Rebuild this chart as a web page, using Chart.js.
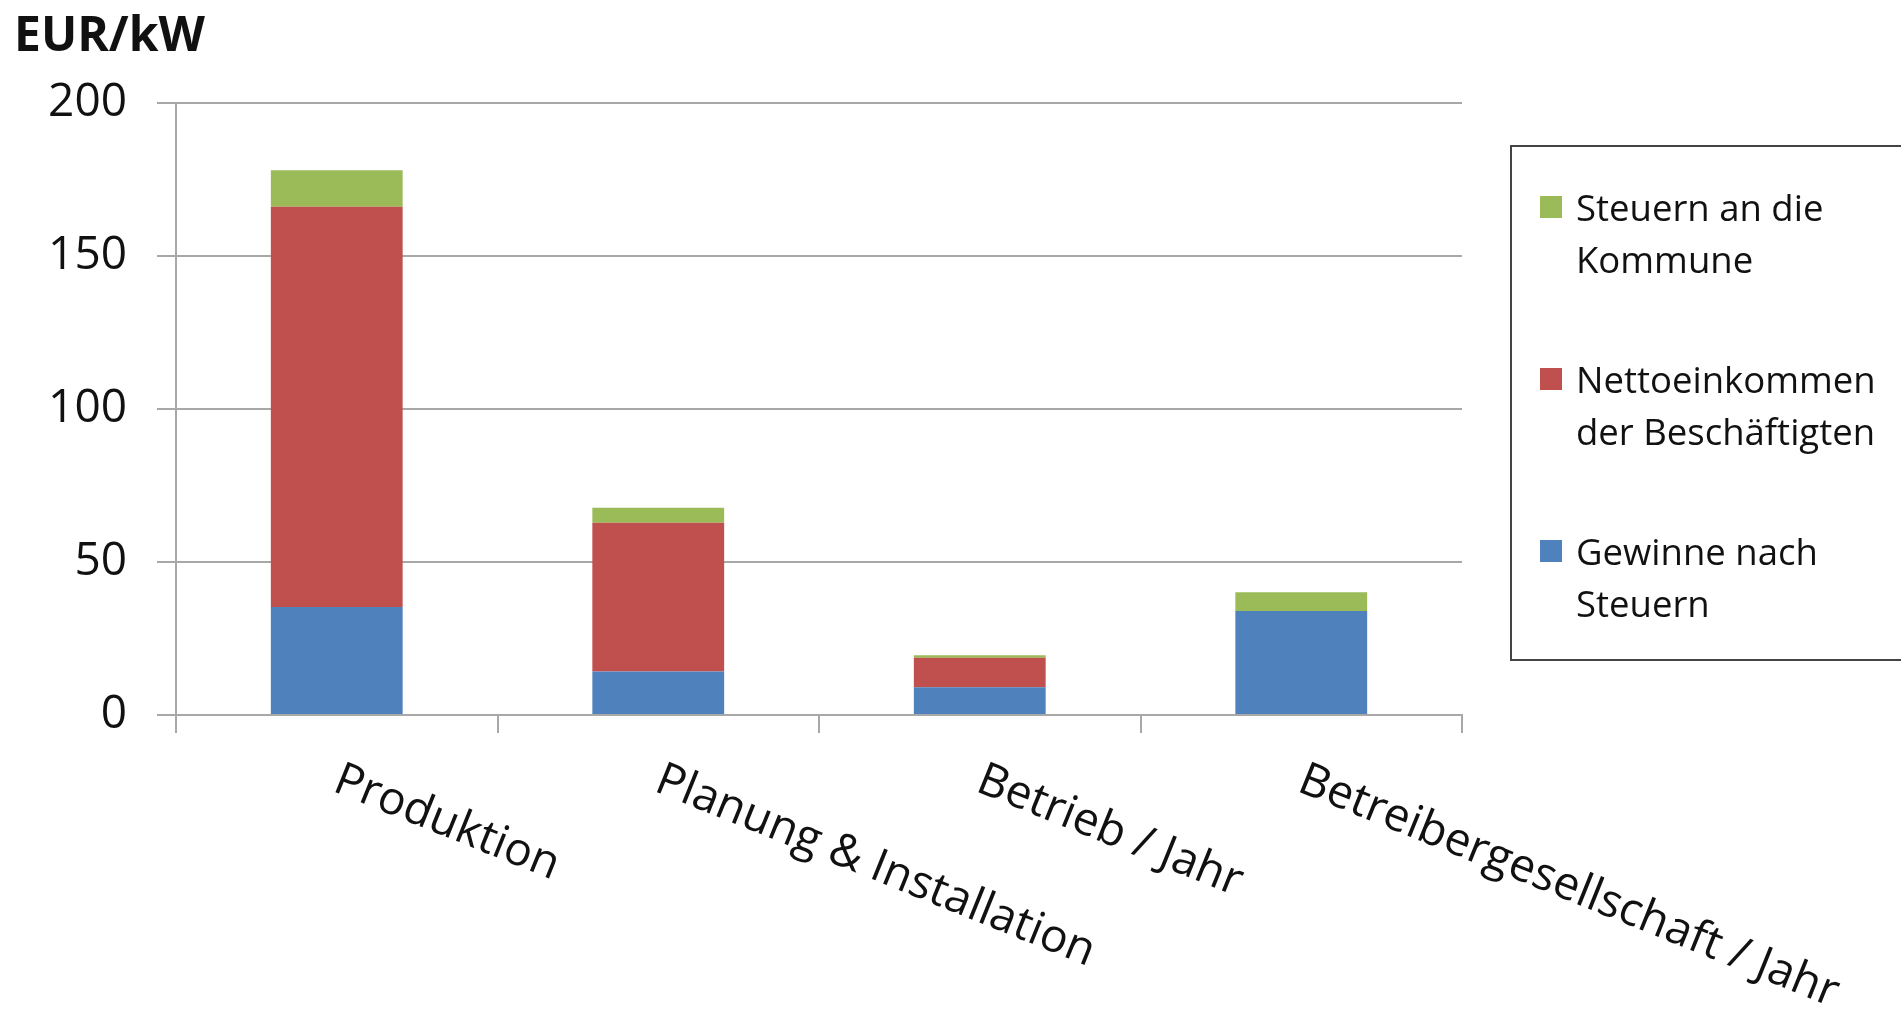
<!DOCTYPE html>
<html>
<head>
<meta charset="utf-8">
<script src="https://cdn.jsdelivr.net/npm/chart.js"></script>
<style>
  body { margin: 0; width: 1901px; height: 1018px; overflow: hidden; background: #fff; font-family: "Open Sans", sans-serif; }
  #wrap { position: relative; width: 1901px; height: 1018px; }
  #unit { position: absolute; left: 14px; top: 0px; font-size: 48px; font-weight: bold; color: #111; }
  #legend { position: absolute; left: 1510px; top: 145px; width: 420px; height: 516px; border: 2px solid #444; box-sizing: border-box; }
  .item { position: absolute; left: 64px; font-size: 36.5px; line-height: 52px; color: #111; white-space: nowrap; }
  .box { position: absolute; left: 28px; width: 22px; height: 22px; }
</style>
</head>
<body>
<div id="wrap">
  <canvas id="chart" width="1901" height="1018"></canvas>
  <div id="unit">EUR/kW</div>
  <div id="legend"></div>
</div>
<script>
// categories and series (EUR/kW)
const categories = ["Produktion", "Planung & Installation", "Betrieb / Jahr", "Betreibergesellschaft / Jahr"];
const gewinne = [35.3, 14.2, 9.1, 34.0];
const netto = [130.8, 48.6, 9.6, 0];
const steuern = [11.9, 4.9, 0.8, 6.1];
const yTicks = [0, 50, 100, 150, 200];

const blue = "#4F81BD";
const red = "#C0504D";
const green = "#9BBB59";
const gridColor = "#A8A8A8";
const labelAngle = 22;

//legend, top item first like the original
const legendItems = [
  { lines: ["Steuern an die", "Kommune"], color: green },
  { lines: ["Nettoeinkommen", "der Beschäftigten"], color: red },
  { lines: ["Gewinne nach", "Steuern"], color: blue },
];
const legend = document.getElementById("legend");
legendItems.forEach((it, i) => {
  const b = document.createElement("div");
  b.className = "box";
  b.style.top = (49 + 172 * i) + "px";
  b.style.background = it.color;
  legend.appendChild(b);
  const t = document.createElement("div");
  t.className = "item";
  t.style.top = (34 + 172 * i) + "px";
  t.innerHTML = it.lines.join("<br>");
  legend.appendChild(t);
});

//rotated category labels going down to the right
const xLabels = {
  id: "xLabels",
  afterDraw(chart) {
    const ctx = chart.ctx;
    const xs = chart.scales.x;
    ctx.save();
    ctx.font = '46px "Open Sans"';
    ctx.fillStyle = "#111";
    ctx.textAlign = "left";
    ctx.textBaseline = "top";
    categories.forEach((c, i) => {
      ctx.save();
      ctx.translate(xs.getPixelForTick(i) + 8, xs.top + 42);
      ctx.rotate(labelAngle * Math.PI / 180);
      ctx.fillText(c, 0, 0);
      ctx.restore();
    });
    ctx.restore();
  },
};

new Chart(document.getElementById("chart"), {
  type: "bar",
  data: {
    labels: categories,
    datasets: [
      { label: "Gewinne nach Steuern", data: gewinne, backgroundColor: blue },
      { label: "Nettoeinkommen der Beschäftigten", data: netto, backgroundColor: red },
      { label: "Steuern an die Kommune", data: steuern, backgroundColor: green },
    ],
  },
  options: {
    responsive: false,
    animation: false,
    layout: { padding: { top: 103, right: 439, bottom: 0, left: 0 } },
    datasets: { bar: { categoryPercentage: 1, barPercentage: 0.41 } },
    plugins: { legend: { display: false }, tooltip: { enabled: false } },
    scales: {
      x: {
        stacked: true,
        afterFit: (s) => { s.height = 303; },
        ticks: { display: false },
        grid: { drawOnChartArea: false, color: gridColor, lineWidth: 2, tickLength: 18 },
        border: { color: gridColor, width: 2 },
      },
      y: {
        stacked: true,
        min: 0,
        max: 200,
        afterFit: (s) => { s.width = 176; },
        afterBuildTicks: (s) => { s.ticks = yTicks.map((v) => ({ value: v })); },
        ticks: { color: "#111", padding: 30, font: { family: "Open Sans", size: 46 } },
        grid: { color: gridColor, lineWidth: 2, tickLength: 19 },
        border: { color: gridColor, width: 2 },
      },
    },
  },
  plugins: [xLabels],
});
</script>
</body>
</html>
